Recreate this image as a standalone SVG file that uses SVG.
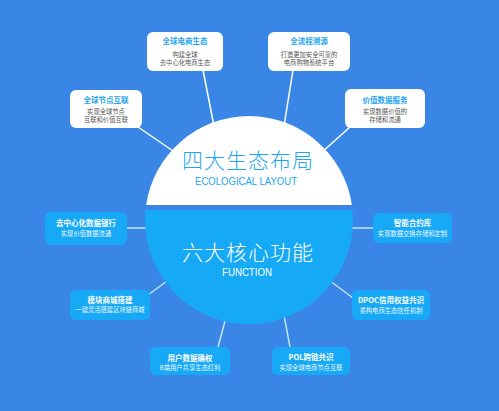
<svg xmlns="http://www.w3.org/2000/svg" width="499" height="411" viewBox="0 0 499 411">
<defs>
<style>
.wbox{fill:#ffffff}
.cbox{fill:#17a9f6}
.t1{font-family:"Noto Sans CJK SC","Noto Sans",sans-serif;font-size:7.5px;font-weight:700;fill:#1ea6f1;text-anchor:middle}
.b1{font-family:"Noto Sans CJK SC","Noto Sans",sans-serif;font-size:6.3px;fill:#555;text-anchor:middle}
.t2{font-family:"Noto Sans CJK SC","Noto Sans",sans-serif;font-size:7.5px;font-weight:700;fill:#fff;text-anchor:middle}
.b2{font-family:"Noto Sans CJK SC","Noto Sans",sans-serif;font-size:6.3px;fill:#eaf6ff;text-anchor:middle}
.lw{stroke:#fff;stroke-width:1.5;fill:none}
.lc{stroke:#bfe6fb;stroke-width:1.5;fill:none}
</style>
</defs>
<rect width="499" height="411" fill="#3a86e7"/>
<g id="connectors">
<line class="lw" x1="203" y1="70" x2="214" y2="126"/>
<line class="lw" x1="293" y1="70" x2="284" y2="126"/>
<line class="lw" x1="138" y1="127" x2="176" y2="153"/>
<line class="lw" x1="350" y1="127" x2="321" y2="153"/>
<line class="lc" x1="127" y1="228" x2="152" y2="228"/>
<line class="lc" x1="373" y1="228" x2="345" y2="228"/>
<line class="lc" x1="148" y1="295" x2="182" y2="270"/>
<line class="lc" x1="353" y1="298" x2="318" y2="272"/>
<line class="lc" x1="218" y1="347" x2="228" y2="310"/>
<line class="lc" x1="290" y1="347" x2="283" y2="310"/>
</g>
<g id="hub">
<path d="M146.1,205 A104,104 0 0 1 351.9,205 Z" fill="#ffffff"/>
<path d="M145.5,210 A104,104 0 1 0 352.5,210 Z" fill="#16a9f6"/>
<text x="248" y="168" font-family="'Noto Sans CJK SC',sans-serif" font-size="21" font-weight="300" fill="#1ea6f1" text-anchor="middle" letter-spacing="1">四大生态布局</text>
<text x="246" y="185" font-family="'Liberation Sans',sans-serif" font-size="10.5" fill="#1ea6f1" text-anchor="middle" textLength="102" lengthAdjust="spacingAndGlyphs">ECOLOGICAL LAYOUT</text>
<text x="248" y="260" font-family="'Noto Sans CJK SC',sans-serif" font-size="21" font-weight="300" fill="#ffffff" text-anchor="middle" letter-spacing="1">六大核心功能</text>
<text x="247" y="276" font-family="'Liberation Sans',sans-serif" font-size="10" fill="#ffffff" text-anchor="middle" textLength="50" lengthAdjust="spacingAndGlyphs">FUNCTION</text>
</g>
<g id="n-global-ecom">
<rect class="wbox" x="147" y="32" width="76" height="39" rx="6"/>
<text class="t1" x="185" y="44">全球电商生态</text>
<text class="b1" x="185" y="56.5">构建全球</text>
<text class="b1" x="185" y="65">去中心化电商生态</text>
</g>
<g id="n-trace">
<rect class="wbox" x="268" y="32" width="82" height="39" rx="6"/>
<text class="t1" x="309" y="44">全流程溯源</text>
<text class="b1" x="309" y="56.5">打造更加安全可靠的</text>
<text class="b1" x="309" y="65">电商购物系统平台</text>
</g>
<g id="n-nodes">
<rect class="wbox" x="70" y="90" width="72" height="38" rx="6"/>
<text class="t1" x="106" y="102.5">全球节点互联</text>
<text class="b1" x="106" y="113.5">实现全球节点</text>
<text class="b1" x="106" y="122">互联和价值互联</text>
</g>
<g id="n-value">
<rect class="wbox" x="345" y="89" width="80" height="39" rx="6"/>
<text class="t1" x="385" y="102.5">价值数据服务</text>
<text class="b1" x="385" y="113.5">实现数据价值的</text>
<text class="b1" x="385" y="122">存储和流通</text>
</g>
<g id="n-bank">
<rect class="cbox" x="45" y="212" width="82" height="33" rx="6"/>
<text class="t2" x="86" y="225.5">去中心化数据银行</text>
<text class="b2" x="86" y="235.5">实现价值数据流通</text>
</g>
<g id="n-contract">
<rect class="cbox" x="373" y="213" width="79" height="30" rx="6"/>
<text class="t2" x="412.5" y="225.5">智能合约库</text>
<text class="b2" x="412.5" y="236">实现数据交换存储和定制</text>
</g>
<g id="n-mall">
<rect class="cbox" x="70" y="290" width="80" height="30" rx="6"/>
<text class="t2" x="110" y="302.5">模块商城搭建</text>
<text class="b2" x="110" y="312">一键灵活搭建区块链商城</text>
</g>
<g id="n-dpoc">
<rect class="cbox" x="352" y="290" width="78" height="30" rx="6"/>
<text class="t2" x="391" y="302.5">DPOC信用权益共识</text>
<text class="b2" x="391" y="312.5">重构电商生态信任机制</text>
</g>
<g id="n-user">
<rect class="cbox" x="150" y="347" width="80" height="28" rx="6"/>
<text class="t2" x="190" y="360.5">用户数据确权</text>
<text class="b2" x="190" y="370">B端用户共享生态红利</text>
</g>
<g id="n-pol">
<rect class="cbox" x="272" y="347" width="78" height="28" rx="6"/>
<text class="t2" x="311" y="360">POL跨链共识</text>
<text class="b2" x="311" y="370">实现全球电商节点互联</text>
</g>
</svg>
